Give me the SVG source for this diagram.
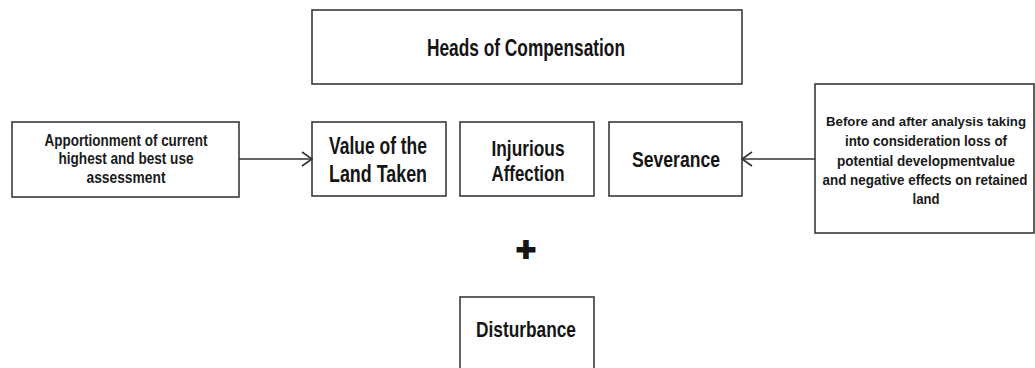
<svg xmlns="http://www.w3.org/2000/svg" width="1035" height="368" viewBox="0 0 1035 368">
<style>
.box{fill:#fff;stroke:#3a3a3a;stroke-width:1.6}
.big{font-family:"Liberation Sans",Arial,sans-serif;font-weight:bold;font-size:23px;fill:#141414;text-anchor:middle}
.small{font-family:"Liberation Sans",Arial,sans-serif;font-weight:bold;font-size:16px;fill:#1a1a1a;text-anchor:middle}
.rt{font-size:14px}
.conn{stroke:#333;stroke-width:1.6;fill:none}
</style>
<defs>
<marker id="chev" viewBox="0 0 12 16" refX="11" refY="8" markerWidth="12" markerHeight="16" orient="auto" markerUnits="userSpaceOnUse">
<path d="M1,1 L11,8 L1,15" fill="none" stroke="#333" stroke-width="1.6"/>
</marker>
</defs>
<rect width="1035" height="368" fill="#fff"/>
<g id="heads">
<rect class="box" x="312" y="10" width="430" height="74"/>
<text class="big" x="526" y="56" textLength="198" lengthAdjust="spacingAndGlyphs">Heads of Compensation</text>
</g>
<g id="apportionment">
<rect class="box" x="12" y="122" width="227" height="75"/>
<text class="small" x="126" y="146" textLength="163" lengthAdjust="spacingAndGlyphs">Apportionment of current</text>
<text class="small" x="126" y="164" textLength="135" lengthAdjust="spacingAndGlyphs">highest and best use</text>
<text class="small" x="126" y="183" textLength="79" lengthAdjust="spacingAndGlyphs">assessment</text>
</g>
<g id="value">
<rect class="box" x="312" y="122" width="134" height="74"/>
<text class="big" x="378" y="154" textLength="98" lengthAdjust="spacingAndGlyphs">Value of the</text>
<text class="big" x="378" y="182" textLength="98" lengthAdjust="spacingAndGlyphs">Land Taken</text>
</g>
<g id="injurious">
<rect class="box" x="460" y="122" width="134" height="74"/>
<text class="big" x="528" y="156" style="font-size:22px" textLength="73" lengthAdjust="spacingAndGlyphs">Injurious</text>
<text class="big" x="528" y="181" style="font-size:22px" textLength="73" lengthAdjust="spacingAndGlyphs">Affection</text>
</g>
<g id="severance">
<rect class="box" x="609" y="122" width="133" height="74"/>
<text class="big" x="676" y="167" style="font-size:22px" textLength="88" lengthAdjust="spacingAndGlyphs">Severance</text>
</g>
<g id="before-after">
<rect class="box" x="815" y="84" width="219" height="149"/>
<text class="small rt" x="926" y="126" style="font-size:13px" textLength="200" lengthAdjust="spacingAndGlyphs">Before and after analysis taking</text>
<text class="small rt" x="926" y="146" textLength="162" lengthAdjust="spacingAndGlyphs">into consideration loss of</text>
<text class="small rt" x="926" y="165.5" textLength="178" lengthAdjust="spacingAndGlyphs">potential developmentvalue</text>
<text class="small rt" x="925" y="185" textLength="205" lengthAdjust="spacingAndGlyphs">and negative effects on retained</text>
<text class="small rt" x="926" y="204" textLength="27" lengthAdjust="spacingAndGlyphs">land</text>
</g>
<g id="plus">
<text class="big" x="526" y="261" style="font-size:34px;stroke:#141414;stroke-width:1.8">+</text>
</g>
<g id="disturbance">
<rect class="box" x="460" y="297" width="134" height="80"/>
<text class="big" x="526" y="337" style="font-size:22px" textLength="100" lengthAdjust="spacingAndGlyphs">Disturbance</text>
</g>
<g id="connectors">
<line class="conn" x1="239" y1="159" x2="312" y2="159" marker-end="url(#chev)"/>
<line class="conn" x1="815" y1="159" x2="742" y2="159" marker-end="url(#chev)"/>
</g>
</svg>
